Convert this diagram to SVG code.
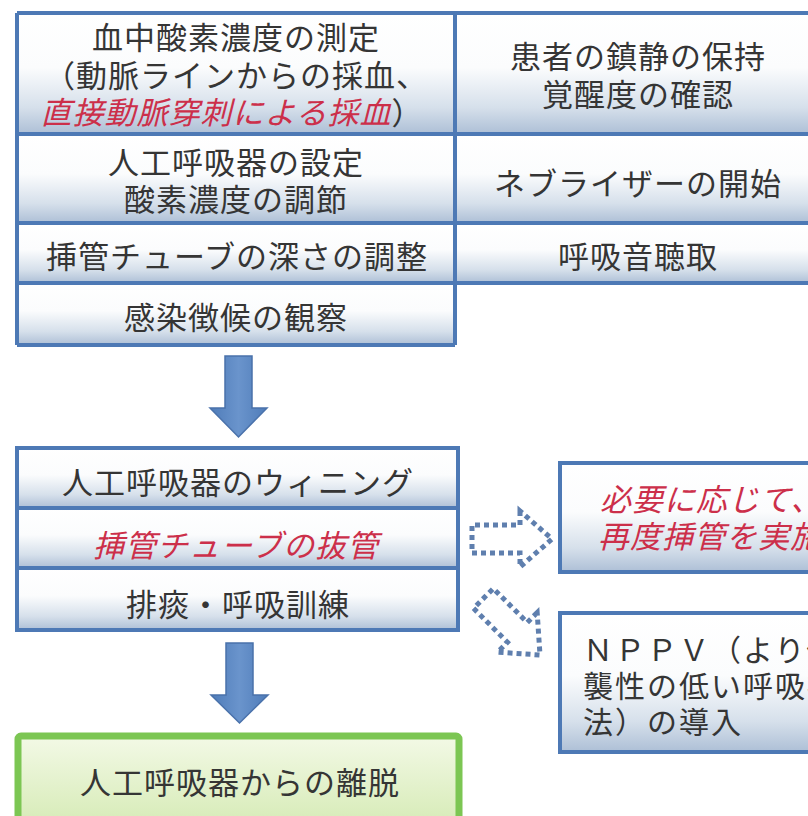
<svg xmlns="http://www.w3.org/2000/svg" width="808" height="816" viewBox="0 0 808 816">
<defs>
<linearGradient id="cellG" x1="0" y1="0" x2="0" y2="1">
<stop offset="0" stop-color="#ffffff"/>
<stop offset="0.45" stop-color="#fbfcfd"/>
<stop offset="0.78" stop-color="#d6e0eb"/>
<stop offset="1" stop-color="#adbfd6"/>
</linearGradient>
<linearGradient id="greenG" x1="0" y1="0" x2="0" y2="1">
<stop offset="0" stop-color="#f3f9e6"/>
<stop offset="1" stop-color="#d6ebb6"/>
</linearGradient>
<linearGradient id="arrowG" x1="0" y1="0" x2="1" y2="0">
<stop offset="0" stop-color="#4f7cb9"/>
<stop offset="0.5" stop-color="#6a94cc"/>
<stop offset="1" stop-color="#4f7cb9"/>
</linearGradient>
<polygon id="dotArrow" points="-32,-28 -32,-14 -80,-14 -80,14 -32,14 -32,28 0,0"/>
</defs>
<style>
.cell{fill:url(#cellG);stroke:none}
.line{stroke:#4d79b5;stroke-width:4;fill:none}
.box{fill:url(#cellG);stroke:#4d79b5;stroke-width:4}
.t{font-family:"Noto Sans CJK JP","Noto Sans CJK SC",sans-serif;font-size:31px;fill:#353535;letter-spacing:1px}
.c{text-anchor:middle}
.red{fill:#cc2f4a;font-style:italic}
.nppv{font-size:30px;letter-spacing:2px}
.arrow{fill:url(#arrowG);stroke:#4a72ab;stroke-width:1.5}
.dot{fill:none;stroke:#5f7fae;stroke-width:5;stroke-dasharray:5 4}
.green{fill:url(#greenG);stroke:#7cc653;stroke-width:7}
</style>
<rect width="808" height="816" fill="#ffffff"/>

<!-- Top block -->
<g id="top-block">
<g id="n-blood-o2">
<rect class="cell" x="17" y="13" width="438" height="121"/>
<text class="t c" x="236" y="49">血中酸素濃度の測定</text>
<text class="t c" x="236" y="87">（動脈ラインからの採血、</text>
<text class="t c" x="232" y="124"><tspan class="red">直接動脈穿刺による採血</tspan>）</text>
</g>
<g id="n-sedation">
<rect class="cell" x="455" y="13" width="380" height="121"/>
<text class="t c" x="638" y="68">患者の鎮静の保持</text>
<text class="t c" x="638" y="106">覚醒度の確認</text>
</g>
<g id="n-vent-setting">
<rect class="cell" x="17" y="134" width="438" height="89"/>
<text class="t c" x="236" y="174">人工呼吸器の設定</text>
<text class="t c" x="236" y="211">酸素濃度の調節</text>
</g>
<g id="n-nebulizer">
<rect class="cell" x="455" y="134" width="380" height="89"/>
<text class="t c" x="638" y="195">ネブライザーの開始</text>
</g>
<g id="n-tube-depth">
<rect class="cell" x="17" y="223" width="438" height="60"/>
<text class="t c" x="237" y="268">挿管チューブの深さの調整</text>
</g>
<g id="n-breath-sound">
<rect class="cell" x="455" y="223" width="380" height="60"/>
<text class="t c" x="638" y="268">呼吸音聴取</text>
</g>
<g id="n-infection">
<rect class="cell" x="17" y="283" width="438" height="62"/>
<text class="t c" x="236" y="329">感染徴候の観察</text>
</g>
<path class="line" d="M17,13 H835 M17,134 H835 M17,223 H835 M17,283 H835 M17,345 H455 M17,13 V345 M455,13 V345"/>
</g>

<!-- Middle block -->
<g id="mid-block">
<g id="n-weaning">
<rect class="cell" x="17" y="448" width="441" height="60"/>
<text class="t c" x="238" y="494">人工呼吸器のウィニング</text>
</g>
<g id="n-extubation">
<rect class="cell" x="17" y="508" width="441" height="60"/>
<text class="t c red" x="236" y="557">挿管チューブの抜管</text>
</g>
<g id="n-sputum">
<rect class="cell" x="17" y="568" width="441" height="62"/>
<text class="t c" x="238" y="616">排痰・呼吸訓練</text>
</g>
<path class="line" d="M17,448 H458 V630 H17 Z M17,508 H458 M17,568 H458"/>
</g>

<!-- Right option boxes -->
<g id="n-reintubate">
<rect class="box" x="560" y="463" width="280" height="109"/>
<text class="t red" x="600" y="511">必要に応じて、</text>
<text class="t red" x="598" y="548">再度挿管を実施</text>
</g>
<g id="n-nppv">
<rect class="box" x="560" y="613" width="280" height="139"/>
<text class="t nppv" x="583" y="661">ＮＰＰＶ（より侵</text>
<text class="t nppv" x="583" y="697">襲性の低い呼吸療</text>
<text class="t nppv" x="583" y="733">法）の導入</text>
</g>

<!-- Final box -->
<g id="n-liberation">
<rect class="green" x="18" y="736" width="441" height="90" rx="3"/>
<text class="t c" x="240" y="794">人工呼吸器からの離脱</text>
</g>

<!-- Connectors -->
<g id="connectors">
<polygon class="arrow" points="225,356 252,356 252,408 267,408 238.5,437 210,408 225,408"/>
<polygon class="arrow" points="226,643 253,643 253,695 268,695 239.5,723 211,695 226,695"/>
<use href="#dotArrow" class="dot" transform="translate(552,539)"/>
<use href="#dotArrow" class="dot" transform="translate(540,655) rotate(45)"/>
</g>
</svg>
